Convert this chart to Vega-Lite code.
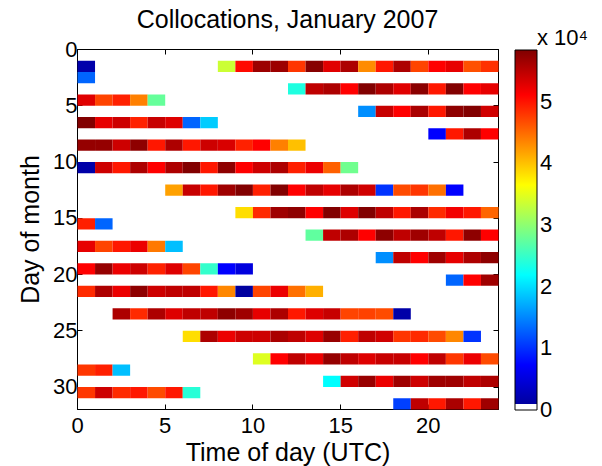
{
  "$schema": "https://vega.github.io/schema/vega-lite/v6.json",
  "width": 421,
  "height": 360,
  "autosize": {"type": "none"},
  "padding": {"left": 77, "top": 49, "right": 104, "bottom": 57},
  "title": {"text": "Collocations, January 2007", "fontSize": 25, "fontWeight": "normal", "font": "Liberation Sans", "color": "black", "offset": -25, "baseline": "alphabetic"},
  "data": {"values": [
    {"d":1,"h":0,"v":2500},{"d":1,"h":8,"v":33500},{"d":1,"h":9,"v":50500},{"d":1,"h":10,"v":56800},{"d":1,"h":11,"v":56800},{"d":1,"h":12,"v":48000},{"d":1,"h":13,"v":58000},{"d":1,"h":14,"v":52800},{"d":1,"h":15,"v":55800},{"d":1,"h":16,"v":43100},{"d":1,"h":17,"v":49800},{"d":1,"h":18,"v":55800},{"d":1,"h":19,"v":47200},{"d":1,"h":20,"v":51100},{"d":1,"h":21,"v":52500},{"d":1,"h":22,"v":46500},{"d":1,"h":23,"v":48300},
    {"d":2,"h":0,"v":13100},
    {"d":3,"h":12,"v":23700},{"d":3,"h":13,"v":54800},{"d":3,"h":14,"v":55800},{"d":3,"h":15,"v":51100},{"d":3,"h":16,"v":58300},{"d":3,"h":17,"v":55800},{"d":3,"h":18,"v":52900},{"d":3,"h":19,"v":57800},{"d":3,"h":20,"v":49800},{"d":3,"h":21,"v":58300},{"d":3,"h":22,"v":51100},{"d":3,"h":23,"v":52500},
    {"d":4,"h":0,"v":52900},{"d":4,"h":1,"v":47200},{"d":4,"h":2,"v":49200},{"d":4,"h":3,"v":43800},{"d":4,"h":4,"v":27700},
    {"d":5,"h":16,"v":15500},{"d":5,"h":17,"v":54300},{"d":5,"h":18,"v":51100},{"d":5,"h":19,"v":56000},{"d":5,"h":20,"v":49800},{"d":5,"h":21,"v":57600},{"d":5,"h":22,"v":58300},{"d":5,"h":23,"v":53800},
    {"d":6,"h":0,"v":58300},{"d":6,"h":1,"v":52500},{"d":6,"h":2,"v":54000},{"d":6,"h":3,"v":49200},{"d":6,"h":4,"v":54300},{"d":6,"h":5,"v":53000},{"d":6,"h":6,"v":13100},{"d":6,"h":7,"v":19000},
    {"d":7,"h":20,"v":7300},{"d":7,"h":21,"v":49800},{"d":7,"h":22,"v":55800},{"d":7,"h":23,"v":51100},
    {"d":8,"h":0,"v":57200},{"d":8,"h":1,"v":57200},{"d":8,"h":2,"v":54000},{"d":8,"h":3,"v":57600},{"d":8,"h":4,"v":49800},{"d":8,"h":5,"v":55800},{"d":8,"h":6,"v":49800},{"d":8,"h":7,"v":54000},{"d":8,"h":8,"v":53300},{"d":8,"h":9,"v":49200},{"d":8,"h":10,"v":51100},{"d":8,"h":11,"v":43800},{"d":8,"h":12,"v":40100},
    {"d":10,"h":0,"v":2300},{"d":10,"h":1,"v":54000},{"d":10,"h":2,"v":49800},{"d":10,"h":3,"v":55800},{"d":10,"h":4,"v":51100},{"d":10,"h":5,"v":55800},{"d":10,"h":6,"v":58300},{"d":10,"h":7,"v":49800},{"d":10,"h":8,"v":57600},{"d":10,"h":9,"v":51100},{"d":10,"h":10,"v":54000},{"d":10,"h":11,"v":55800},{"d":10,"h":12,"v":49300},{"d":10,"h":13,"v":52200},{"d":10,"h":14,"v":45600},{"d":10,"h":15,"v":28300},
    {"d":12,"h":5,"v":41900},{"d":12,"h":6,"v":54300},{"d":12,"h":7,"v":49800},{"d":12,"h":8,"v":56600},{"d":12,"h":9,"v":58300},{"d":12,"h":10,"v":49300},{"d":12,"h":11,"v":58300},{"d":12,"h":12,"v":51100},{"d":12,"h":13,"v":54800},{"d":12,"h":14,"v":52500},{"d":12,"h":15,"v":55800},{"d":12,"h":16,"v":53800},{"d":12,"h":17,"v":10200},{"d":12,"h":18,"v":46800},{"d":12,"h":19,"v":48000},{"d":12,"h":20,"v":44700},{"d":12,"h":21,"v":7300},
    {"d":14,"h":9,"v":38400},{"d":14,"h":10,"v":48700},{"d":14,"h":11,"v":56600},{"d":14,"h":12,"v":57600},{"d":14,"h":13,"v":51100},{"d":14,"h":14,"v":58300},{"d":14,"h":15,"v":53000},{"d":14,"h":16,"v":58300},{"d":14,"h":17,"v":54800},{"d":14,"h":18,"v":49800},{"d":14,"h":19,"v":56000},{"d":14,"h":20,"v":48700},{"d":14,"h":21,"v":51800},{"d":14,"h":22,"v":49800},{"d":14,"h":23,"v":45300},
    {"d":15,"h":0,"v":49300},{"d":15,"h":1,"v":13100},
    {"d":16,"h":13,"v":27400},{"d":16,"h":14,"v":54800},{"d":16,"h":15,"v":55800},{"d":16,"h":16,"v":51100},{"d":16,"h":17,"v":57600},{"d":16,"h":18,"v":54800},{"d":16,"h":19,"v":56600},{"d":16,"h":20,"v":54800},{"d":16,"h":21,"v":49800},{"d":16,"h":22,"v":57600},{"d":16,"h":23,"v":51100},
    {"d":17,"h":0,"v":52500},{"d":17,"h":1,"v":47200},{"d":17,"h":2,"v":49800},{"d":17,"h":3,"v":52200},{"d":17,"h":4,"v":44200},{"d":17,"h":5,"v":18250},
    {"d":18,"h":17,"v":15500},{"d":18,"h":18,"v":54800},{"d":18,"h":19,"v":51100},{"d":18,"h":20,"v":56600},{"d":18,"h":21,"v":52500},{"d":18,"h":22,"v":55800},{"d":18,"h":23,"v":57600},
    {"d":19,"h":0,"v":51100},{"d":19,"h":1,"v":57200},{"d":19,"h":2,"v":52200},{"d":19,"h":3,"v":54000},{"d":19,"h":4,"v":49200},{"d":19,"h":5,"v":53000},{"d":19,"h":6,"v":47200},{"d":19,"h":7,"v":24800},{"d":19,"h":8,"v":7300},{"d":19,"h":9,"v":5400},
    {"d":20,"h":21,"v":13100},{"d":20,"h":22,"v":51100},{"d":20,"h":23,"v":56600},
    {"d":21,"h":0,"v":48700},{"d":21,"h":1,"v":55800},{"d":21,"h":2,"v":52200},{"d":21,"h":3,"v":57600},{"d":21,"h":4,"v":54000},{"d":21,"h":5,"v":54800},{"d":21,"h":6,"v":54800},{"d":21,"h":7,"v":49800},{"d":21,"h":8,"v":43350},{"d":21,"h":9,"v":1800},{"d":21,"h":10,"v":47200},{"d":21,"h":11,"v":52200},{"d":21,"h":12,"v":44700},{"d":21,"h":13,"v":41000},
    {"d":23,"h":2,"v":55800},{"d":23,"h":3,"v":48700},{"d":23,"h":4,"v":55800},{"d":23,"h":5,"v":53000},{"d":23,"h":6,"v":54800},{"d":23,"h":7,"v":54800},{"d":23,"h":8,"v":57600},{"d":23,"h":9,"v":56600},{"d":23,"h":10,"v":52500},{"d":23,"h":11,"v":55800},{"d":23,"h":12,"v":49800},{"d":23,"h":13,"v":53000},{"d":23,"h":14,"v":54300},{"d":23,"h":15,"v":47200},{"d":23,"h":16,"v":47400},{"d":23,"h":17,"v":46800},{"d":23,"h":18,"v":2300},
    {"d":25,"h":6,"v":38400},{"d":25,"h":7,"v":55800},{"d":25,"h":8,"v":52200},{"d":25,"h":9,"v":54000},{"d":25,"h":10,"v":54000},{"d":25,"h":11,"v":56000},{"d":25,"h":12,"v":54800},{"d":25,"h":13,"v":53000},{"d":25,"h":14,"v":57000},{"d":25,"h":15,"v":49300},{"d":25,"h":16,"v":54800},{"d":25,"h":17,"v":53800},{"d":25,"h":18,"v":48000},{"d":25,"h":19,"v":48700},{"d":25,"h":20,"v":46800},{"d":25,"h":21,"v":43350},{"d":25,"h":22,"v":10200},
    {"d":27,"h":10,"v":34600},{"d":27,"h":11,"v":51100},{"d":27,"h":12,"v":54800},{"d":27,"h":13,"v":52200},{"d":27,"h":14,"v":57200},{"d":27,"h":15,"v":54800},{"d":27,"h":16,"v":53000},{"d":27,"h":17,"v":54300},{"d":27,"h":18,"v":54300},{"d":27,"h":19,"v":51100},{"d":27,"h":20,"v":54800},{"d":27,"h":21,"v":48000},{"d":27,"h":22,"v":52200},{"d":27,"h":23,"v":46800},
    {"d":28,"h":0,"v":48000},{"d":28,"h":1,"v":49300},{"d":28,"h":2,"v":18250},
    {"d":29,"h":14,"v":21900},{"d":29,"h":15,"v":53800},{"d":29,"h":16,"v":57000},{"d":29,"h":17,"v":52200},{"d":29,"h":18,"v":56600},{"d":29,"h":19,"v":54000},{"d":29,"h":20,"v":56600},{"d":29,"h":21,"v":56600},{"d":29,"h":22,"v":54800},{"d":29,"h":23,"v":55800},
    {"d":30,"h":0,"v":48000},{"d":30,"h":1,"v":54000},{"d":30,"h":2,"v":48700},{"d":30,"h":3,"v":49800},{"d":30,"h":4,"v":46800},{"d":30,"h":5,"v":49800},{"d":30,"h":6,"v":24200},
    {"d":31,"h":18,"v":10950},{"d":31,"h":19,"v":54800},{"d":31,"h":20,"v":49800},{"d":31,"h":21,"v":56000},{"d":31,"h":22,"v":49800},{"d":31,"h":23,"v":56600}
  ]},
  "layer": [
    {
      "mark": {"type": "rect"},
      "encoding": {
        "x": {"field": "h", "type": "quantitative", "bin": {"binned": true, "step": 1},
              "scale": {"domain": [0, 24], "nice": false, "zero": false},
              "axis": {"orient": "bottom", "values": [0, 5, 10, 15, 20], "title": "Time of day (UTC)", "labelFlush": false, "labelPadding": 11, "titlePadding": 4}},
        "y": {"field": "d", "type": "quantitative", "bin": {"binned": true, "step": 1},
              "scale": {"domain": [0, 32], "nice": false, "zero": false, "reverse": true},
              "axis": {"orient": "left", "values": [0, 5, 10, 15, 20, 25, 30], "title": "Day of month", "labelFlush": false, "labelPadding": 5, "titlePadding": 9}},
        "color": {"field": "v", "type": "quantitative",
                  "scale": {"type": "linear", "domain": [0, 7300, 21900, 36500, 51100, 58400], "range": ["#000080", "#0000FF", "#00FFFF", "#FFFF00", "#FF0000", "#800000"], "interpolate": "rgb"},
                  "legend": {
                    "orient": "none", "legendX": 438, "legendY": -21, "direction": "vertical",
                    "title": "x 10⁴", "titleFontSize": 22, "titlePadding": 0, "titleFont": "Liberation Sans", "titleFontWeight": "normal", "titleColor": "black",
                    "gradientLength": 360, "gradientThickness": 22, "gradientStrokeColor": "black", "gradientStrokeWidth": 1,
                    "values": [0, 10000, 20000, 30000, 40000, 50000], "labelExpr": "datum.value / 10000",
                    "labelFontSize": 22, "labelFont": "Liberation Sans", "labelColor": "black", "labelOffset": 3, "labelBaseline": "middle", "labelOverlap": false,
                    "encode": {
                      "title": {"update": {"dx": {"value": 22}}},
                      "labels": {"update": {"baseline": {"value": "middle"}}},
                      "gradient": {"update": {"fill": {"value": {"gradient": "linear", "x1": 0, "y1": 1, "x2": 0, "y2": 0, "stops": [
                        {"offset": 0, "color": "#FFFFFF"}, {"offset": 0.0156, "color": "#FFFFFF"}, {"offset": 0.0157, "color": "#00009F"},
                        {"offset": 0.125, "color": "#0000FF"}, {"offset": 0.375, "color": "#00FFFF"}, {"offset": 0.625, "color": "#FFFF00"},
                        {"offset": 0.875, "color": "#FF0000"}, {"offset": 1, "color": "#800000"}]}}}}
                    }
                  }}
      }
    },
    {
      "mark": {"type": "rect", "opacity": 0},
      "encoding": {
        "x": {"field": "h", "type": "quantitative", "bin": {"binned": true, "step": 1},
              "axis": {"orient": "top", "values": [0, 5, 10, 15, 20], "labels": false, "title": null}},
        "y": {"field": "d", "type": "quantitative", "bin": {"binned": true, "step": 1},
              "axis": {"orient": "right", "values": [0, 5, 10, 15, 20, 25, 30], "labels": false, "title": null}}
      }
    }
  ],
  "resolve": {"axis": {"x": "independent", "y": "independent"}},
  "config": {
    "font": "Liberation Sans",
    "view": {"stroke": "black", "strokeWidth": 1},
    "axis": {"domainColor": "black", "domainWidth": 1, "tickColor": "black", "tickSize": -5, "tickWidth": 1, "labelColor": "black", "titleColor": "black", "grid": false,
             "labelFont": "Liberation Sans", "titleFont": "Liberation Sans", "labelFontSize": 22, "titleFontSize": 25, "titleFontWeight": "normal", "zindex": 1}
  }
}
